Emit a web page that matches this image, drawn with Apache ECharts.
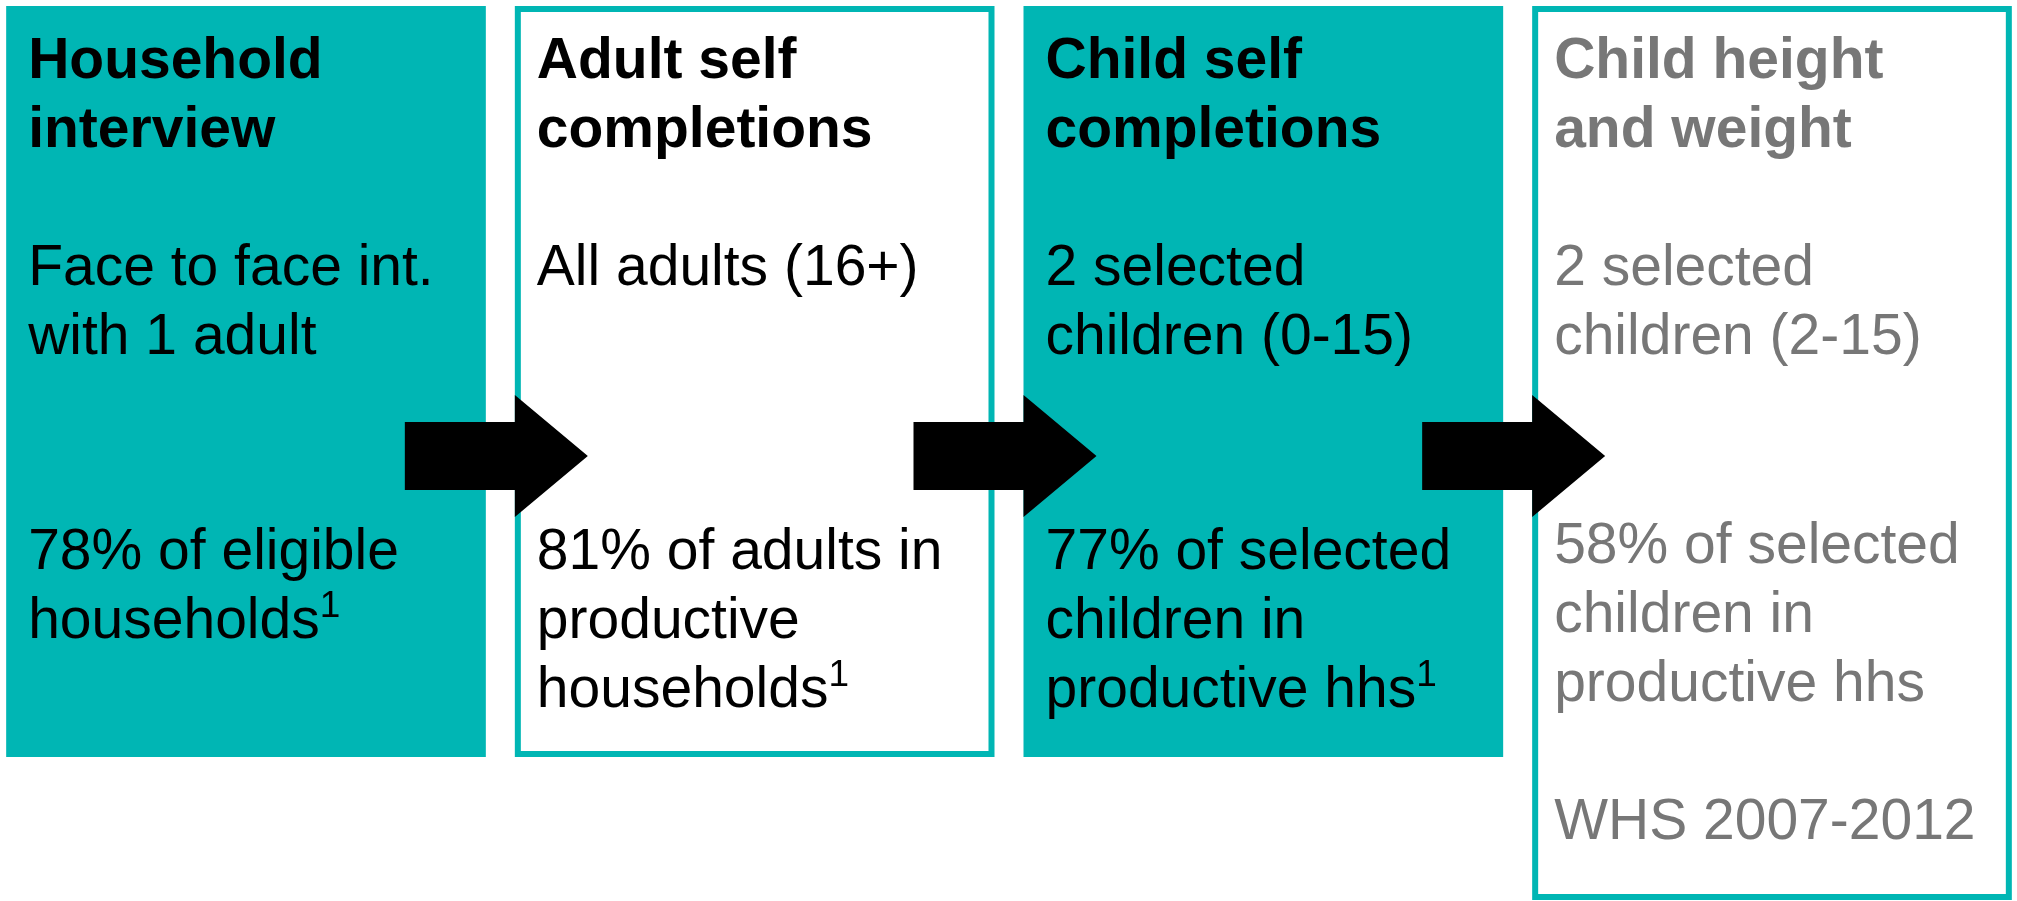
<!DOCTYPE html>
<html>
<head>
<meta charset="utf-8">
<title>WHS response stages</title>
<script src="https://cdn.jsdelivr.net/npm/echarts@6/dist/echarts.min.js"></script>
<style>
    html, body { margin: 0; padding: 0; background: #fff; }
    #main { width: 2017px; height: 901px; }
</style>
</head>
<body>
<div id="main"></div>
<script type="text/javascript">
// stages of the survey, left to right
var stages = ['Household interview', 'Adult self completions', 'Child self completions', 'Child height and weight'];
var titles = ['Household\ninterview', 'Adult self\ncompletions', 'Child self\ncompletions', 'Child height\nand weight'];
var samples = ['Face to face int.\nwith 1 adult', 'All adults (16+)', '2 selected\nchildren (0-15)', '2 selected\nchildren (2-15)'];
var responseRates = [78, 81, 77, 58];
var responseBases = ['of eligible\nhouseholds', 'of adults in\nproductive\nhouseholds', 'of selected\nchildren in\nproductive hhs', 'of selected\nchildren in\nproductive hhs'];
var footnotes = ['1', '1', '1', ''];
var notes = ['', '', '', 'WHS 2007-2012'];
// length of each card down the (inverted) y axis
var cardLength = [751, 751, 751, 894];

var TEAL = '#00b6b4';
var GREY = '#777777';
var LINE = 69;

function cardLook(i) {
    // filled teal for odd steps, outlined for the others, last one greyed
    return {
        filled: i % 2 === 0,
        text: i === 3 ? GREY : '#000'
    };
}

function block(x, y, text, color, bold) {
    return {
        type: 'text',
        style: {
            x: x, y: y,
            text: text,
            fill: color,
            fontFamily: 'Liberation Sans',
            fontSize: 57,
            fontWeight: bold ? 'bold' : 'normal',
            lineHeight: LINE,
            verticalAlign: 'top',
            align: 'left',
            rich: {
                sup: { fontSize: 37, lineHeight: 53, verticalAlign: 'top', fill: color, fontFamily: 'Liberation Sans' }
            }
        }
    };
}

function renderCard(params, api) {
    var i = api.value(0);
    var top = api.coord([i, 0]);
    var bottom = api.coord([i, api.value(1)]);
    var w = api.size([1, 0])[0] - 29;
    var x = top[0] - w / 2;
    var y = top[1];
    var h = bottom[1] - top[1];
    var look = cardLook(i);
    var kids = [];
    if (look.filled) {
        kids.push({ type: 'rect', shape: { x: x, y: y, width: w, height: h }, style: { fill: TEAL } });
    } else {
        kids.push({ type: 'rect', shape: { x: x + 3, y: y + 3, width: w - 6, height: h - 6 }, style: { fill: '#fff', stroke: TEAL, lineWidth: 6 } });
    }
    var tx = x + 22;
    kids.push(block(tx, y + 22, titles[i], look.text, true));
    kids.push(block(tx, y + 229, samples[i], look.text, false));
    var res = responseRates[i] + '% ' + responseBases[i] + (footnotes[i] ? '{sup|' + footnotes[i] + '}' : '');
    kids.push(block(tx, y + (notes[i] ? 507 : 513), res, look.text, false));
    if (notes[i]) {
        kids.push(block(tx, y + 783, notes[i], look.text, false));
    }
    return { type: 'group', children: kids };
}

function renderArrow(params, api) {
    var i = api.value(0);
    var band = api.size([1, 0])[0];
    var w = band - 29;
    var a = api.coord([i, 0]);
    var b = api.coord([i + 1, 0]);
    var x0 = a[0] + w / 2 - 81;
    var base = b[0] - w / 2;
    var tip = base + 73;
    var c = a[1] + 450;
    return {
        type: 'polygon',
        shape: {
            points: [[x0, c - 34], [base, c - 34], [base, c - 61], [tip, c], [base, c + 61], [base, c + 34], [x0, c + 34]]
        },
        style: { fill: '#000' }
    };
}

var chart = echarts.init(document.getElementById('main'));
chart.setOption({
    animation: false,
    grid: { left: 246, right: 245, top: 6, bottom: 1 },
    xAxis: { type: 'category', data: stages, boundaryGap: false, show: false },
    yAxis: { type: 'value', inverse: true, min: 0, max: 894, show: false },
    series: [{
        type: 'custom',
        renderItem: renderCard,
        data: stages.map(function (s, i) { return [i, cardLength[i]]; }),
        z: 1
    }, {
        type: 'custom',
        renderItem: renderArrow,
        data: stages.slice(1).map(function (s, i) { return [i, 0]; }),
        z: 2
    }]
});
</script>
</body>
</html>
